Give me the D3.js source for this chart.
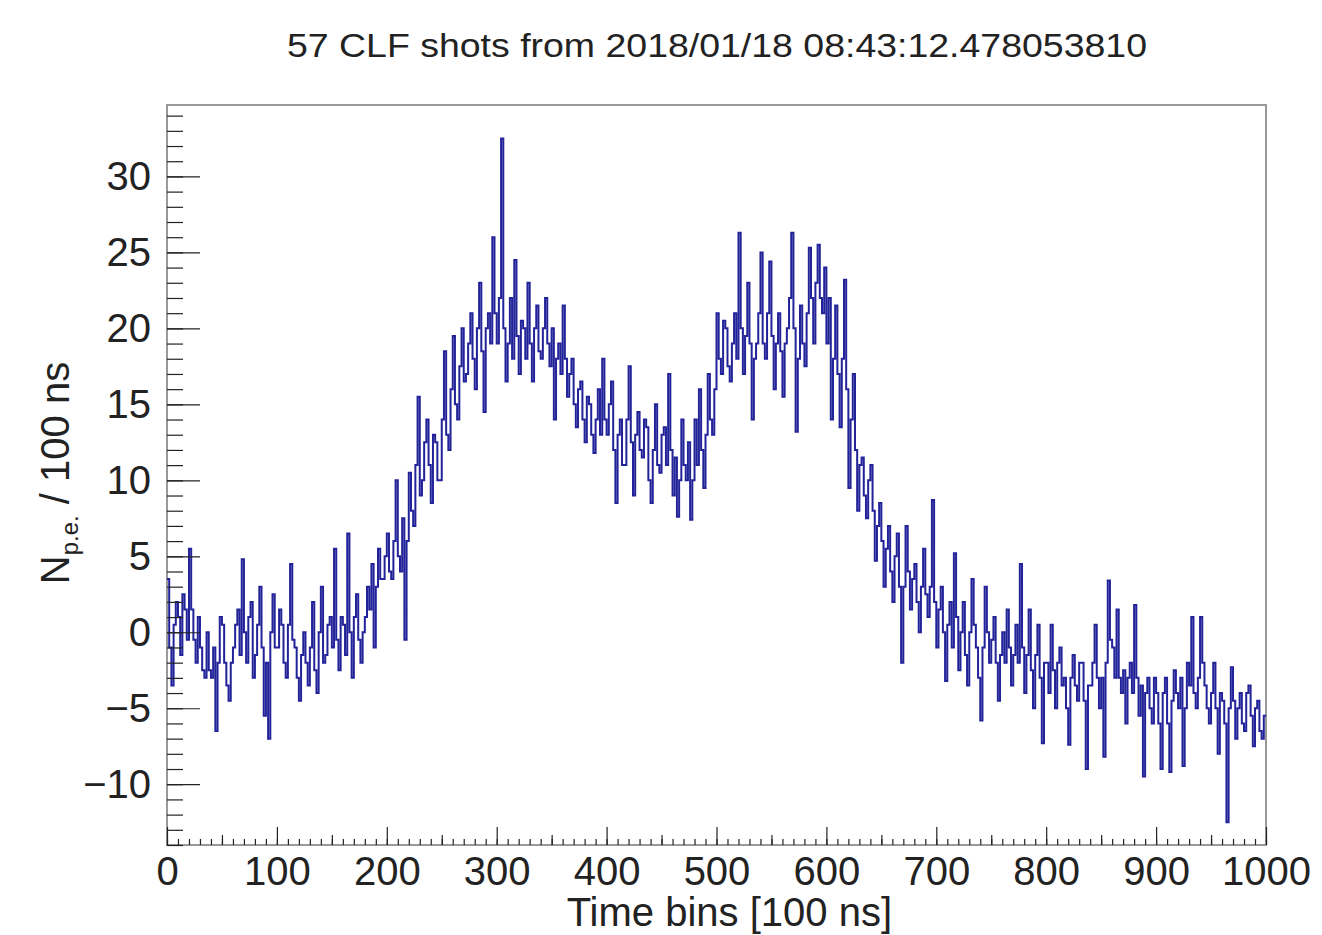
<!DOCTYPE html>
<meta charset="utf-8">
<title>CLF shots</title>
<style>
    body {
        margin: 0;
        background: #fff;
        font-family: "Liberation Sans", Arial, sans-serif;
    }

    svg {
        display: block;
    }

    .axis path {
        display: none;
    }

    .axis line {
        stroke: #222;
        stroke-width: 1.2px;
    }

    .axis text {
        font-family: "Liberation Sans", Arial, sans-serif;
        font-size: 40px;
        fill: #222;
    }
</style>

<body>
    <svg width="1322" height="935"></svg>

    <script src="https://d3js.org/d3.v7.min.js"></script>
    <script>
        const title = "57 CLF shots from 2018/01/18 08:43:12.478053810";
        const xTitle = "Time bins [100 ns]";

        // each value covers 2 time bins, one array per 100 bins
        const binsPerValue = 2;
        const seg0 = [3.5, -1, -3.5, 0.5, 2, 1, -1.5, 2.5, 1.5, -0.5, 5.5, 1.5, -0.5, -2, 1, -1, -2.5, -3, 0, -2.5, -3, -1, -6.5, -2, 1, 0.5, -2, -3.5, -4.5, -2, -1, 0.5, 1.5, -1.5, 4.8, 0, -2, 1, 2, -3, -1.5, 0.5, 3, -1, -5.5, -2, -7, 0, 2.5, -1];
        const seg1 = [-1, 1.5, 0.5, -2, -3, 0.5, 4.5, -0.5, -1, -3, -4.5, -1.5, 0, -2, -3.5, -1, 2, -2.5, -4, 0, 3, -2, -1.5, 0.5, 1, -1, 5.5, -0.5, -2.5, 1, 0.5, -1.5, 6.5, 0, -3, 1, 2.5, -0.5, -2, 0, 1, 3, 1.5, 4.5, -1, 3, 5.5, 3.5, 3.5, 5];
        const seg2 = [6.5, 4, 3.5, 6, 10, 5, 4, 7.5, -0.5, 6, 10.5, 8, 7, 11, 15.5, 9, 10, 12.5, 14, 11, 8.5, 13, 12.5, 10, 10, 14, 18.5, 13, 12, 16, 19.5, 15, 14, 17.5, 20, 16.5, 17, 19, 21, 18, 16, 20, 23, 18.5, 14.5, 20, 21, 19, 26, 21];
        const seg3 = [19, 22, 32.5, 20, 16.5, 19, 22, 18, 24.5, 19.5, 17, 20.5, 20, 18, 23, 19, 16.5, 20, 21.5, 18.5, 18, 20, 22, 19, 17.5, 20, 14, 18, 19, 17, 21.5, 18, 15.5, 17, 18, 15, 13.5, 16, 16.5, 14, 12.5, 15.5, 15, 13, 11.8, 14, 16, 13, 18, 14];
        const seg4 = [13, 15, 16.5, 12, 8.5, 13, 14, 11, 11, 14, 17.5, 12.5, 9, 13, 14.5, 12, 11.5, 14, 13.5, 10, 8.5, 12, 15, 11, 10.5, 13, 13.5, 11, 17, 12, 9, 11.5, 7.6, 10, 14, 11, 10, 12.5, 7.4, 10, 14, 11, 16, 12, 9.5, 13, 17, 14, 13, 16];
        const seg5 = [21, 18, 17, 20.5, 20, 17.5, 16.5, 19, 21, 18, 26.3, 20, 17, 19.5, 23, 19, 14, 18, 19, 21, 25, 19, 18, 21, 24.4, 19.5, 16, 19, 21, 18.5, 15.5, 19, 20, 22, 26.3, 20, 13.2, 18, 21.5, 19, 17.5, 21, 25.3, 22, 19, 23, 25.5, 22, 21, 24];
        const seg6 = [19, 22, 14, 18, 21.5, 17, 13.5, 18, 23.2, 16, 9.5, 14, 17, 12, 8, 11, 11.5, 9, 7.5, 10, 11, 8, 4.7, 7, 8.5, 6, 3, 5.5, 7, 4, 2, 5, 6.5, 3, -2, 3, 7, 4, 1.5, 3.5, 4.5, 2, 0, 3, 5.5, 2.5, 1, 3, 8.7, 2];
        const seg7 = [-1, 1.5, 3, 0, -3.2, 0.5, 2, -1, 5.2, 1, -2.5, 0, 2, -1.5, -3.5, 0, 3.5, 0.5, -1, -3, -5.8, -1, 3, 0, -2, -0.5, 1, -2, -4.5, -1.5, 0, -2, 1.5, -1, -3.5, -1.5, 0.5, -2, 4.5, -1, -4, -1.5, 1.5, -2.5, -5, -1.5, 0.5, -3, -7.3, -2];
        const seg8 = [-2, -4, 0.5, -2.5, -5, -2, -1, -3.5, -3, -5, -7.4, -3, -1.5, -3.5, -4.5, -2, -2, -4.5, -9, -3.5, -3.5, -2, 0.5, -3, -5, -3, -8.2, -2, 3.4, -0.5, -1, -3, 1.5, -3, -4, -2.5, -6, -3, -2, -4, 1.8, -3, -5.5, -3.5, -9.5, -4, -3, -5, -6, -3];
        const seg9 = [-4, -6, -9, -4, -3, -6, -9.2, -4.5, -2.5, -4, -5, -3, -8.8, -5, -2, -3.5, 1, -4, -5, -3, 1, -2, -3.5, -5, -6, -4, -2, -5, -8, -4, -4.5, -6, -12.5, -5, -2.3, -4.5, -7, -5, -4, -6, -6.5, -4, -3.5, -5.5, -7.5, -5, -4.5, -6.5, -7, -5.5];

        const xTicks = [0, 100, 200, 300, 400, 500, 600, 700, 800, 900, 1000];
        const yTicks = [-10, -5, 0, 5, 10, 15, 20, 25, 30];

        const values = [].concat(seg0, seg1, seg2, seg3, seg4, seg5, seg6, seg7, seg8, seg9);

        const svg = d3.select("svg");
        const frame = { left: 167, right: 1266, top: 105, bottom: 845 };

        const x = d3.scaleLinear().domain([0, 1000]).range([frame.left, frame.right]);
        const y = d3.scaleLinear().domain([-14, 34.7]).range([frame.bottom, frame.top]);

        // frame
        svg.append("rect")
            .attr("x", frame.left)
            .attr("y", frame.top)
            .attr("width", frame.right - frame.left)
            .attr("height", frame.bottom - frame.top)
            .attr("fill", "none")
            .attr("stroke", "#999")
            .attr("stroke-width", 2);

        // histogram as step line
        const pts = values.map((v, i) => [i * binsPerValue, v]);
        pts.push([values.length * binsPerValue, values[values.length - 1]]);

        const line = d3.line()
            .x(d => x(d[0]))
            .y(d => y(d[1]))
            .curve(d3.curveStepAfter);

        svg.append("path")
            .datum(pts)
            .attr("d", line)
            .attr("fill", "none")
            .attr("stroke", "#222299")
            .attr("stroke-width", 2);

        // x axis, ticks pointing into the frame
        svg.append("g")
            .attr("class", "axis")
            .attr("transform", `translate(0,${frame.bottom})`)
            .call(d3.axisBottom(x).tickValues(d3.range(0, 1001, 10)).tickSize(-6).tickFormat(""));
        svg.append("g")
            .attr("class", "axis")
            .attr("transform", `translate(0,${frame.bottom})`)
            .call(d3.axisBottom(x).tickValues(d3.range(50, 1000, 100)).tickSize(-10).tickFormat(""));
        svg.append("g")
            .attr("class", "axis")
            .attr("transform", `translate(0,${frame.bottom})`)
            .call(d3.axisBottom(x).tickValues(xTicks).tickSize(-18).tickPadding(12).tickFormat(d3.format("d")));

        // y axis
        svg.append("g")
            .attr("class", "axis")
            .attr("transform", `translate(${frame.left},0)`)
            .call(d3.axisLeft(y).tickValues(d3.range(-14, 35, 1)).tickSize(-16).tickFormat(""));
        svg.append("g")
            .attr("class", "axis")
            .attr("transform", `translate(${frame.left},0)`)
            .call(d3.axisLeft(y).tickValues(yTicks).tickSize(-33).tickPadding(16));

        // titles
        svg.append("text")
            .attr("x", 717)
            .attr("y", 57)
            .attr("text-anchor", "middle")
            .attr("textLength", 860)
            .attr("lengthAdjust", "spacingAndGlyphs")
            .style("font-size", "33px")
            .style("fill", "#222")
            .text(title);

        svg.append("text")
            .attr("x", 892)
            .attr("y", 926)
            .attr("text-anchor", "end")
            .style("font-size", "40px")
            .style("fill", "#222")
            .text(xTitle);

        const yLabel = svg.append("text")
            .attr("transform", "translate(69,473) rotate(-90)")
            .attr("text-anchor", "middle")
            .style("font-size", "40px")
            .style("fill", "#222");
        yLabel.append("tspan").text("N");
        yLabel.append("tspan").attr("dy", 9).style("font-size", "24px").text("p.e.");
        yLabel.append("tspan").attr("dy", -9).text(" / 100 ns");
    </script>
</body>

</html>
